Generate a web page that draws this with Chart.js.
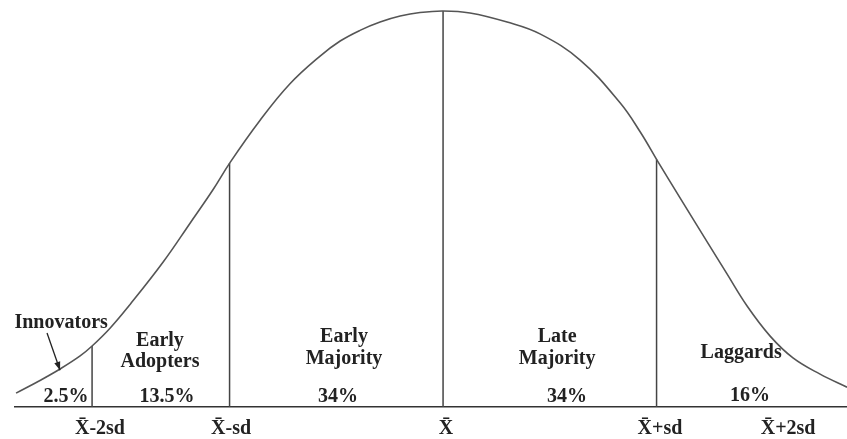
<!DOCTYPE html>
<html>
<head>
<meta charset="utf-8">
<script src="https://cdn.jsdelivr.net/npm/chart.js@4/dist/chart.umd.min.js"></script>
<style>
  html, body { margin: 0; padding: 0; background: #ffffff; }
  #wrap { width: 847px; height: 439px; }
</style>
</head>
<body>
<div id="wrap"><canvas id="c" width="847" height="439"></canvas></div>
<script>
// x in standard deviations from the mean, y in % of the peak height
const curveX = [-2.0, -1.888, -1.794, -1.70, -1.644, -1.56, -1.466, -1.311, -1.185, -1.077, -0.998, -0.857,
                -0.717, -0.576, -0.482, -0.389, -0.295, -0.201, -0.108, 0.0,
                0.126, 0.30, 0.454, 0.642, 0.829, 0.923, 1.007, 1.11, 1.237, 1.33, 1.424, 1.532, 1.639, 1.766, 1.892];
const curveY = [3.5, 6.7, 9.6, 12.9, 15.4, 19.9, 25.9, 36.6, 46.4, 54.9, 61.7, 72.4,
                81.6, 88.6, 92.4, 95.1, 97.2, 98.7, 99.6, 100,
                99.5, 97.2, 94.2, 87.6, 76.8, 69.5, 61.9, 52.8, 41.7, 33.6, 25.5, 17.9, 12.4, 8.3, 5.0];
const dividerX = [-1.644, -1.0, 0.0, 1.0];
const dividerTop = [15.4, 61.6, 100, 62.5];
const tickValues = [-1.607, -0.993, 0.014, 1.016, 1.616];
const tickLabels = ['X\u0304-2sd', 'X\u0304-sd', 'X\u0304', 'X\u0304+sd', 'X\u0304+2sd'];
const groupNames = [['Early', 'Adopters'], ['Early', 'Majority'], ['Late', 'Majority'], ['Laggards']];
const groupShares = ['2.5%', '13.5%', '34%', '34%', '16%'];
const innovatorsLabel = 'Innovators';

const FONT = "'Liberation Serif', 'Times New Roman', serif";
const TEXT = '#222222';

const datasets = [{
  data: curveX.map((x, i) => ({ x: x, y: curveY[i] })),
  showLine: true,
  borderColor: '#555555',
  borderWidth: 1.6,
  pointRadius: 0,
  tension: 0.4,
  fill: false
}];
dividerX.forEach((x, i) => {
  datasets.push({
    data: [{ x: x, y: 0 }, { x: x, y: dividerTop[i] }],
    showLine: true,
    borderColor: '#444444',
    borderWidth: 1.5,
    pointRadius: 0,
    tension: 0
  });
});

// label layout in data coordinates (x in sd, y in % of peak)
const nameLayout = [
  { x: -1.326, ys: [16.7, 11.4] },
  { x: -0.464, ys: [17.7, 12.1] },
  { x: 0.534, ys: [17.7, 12.1] },
  { x: 1.396, ys: [13.6] }
];
const shareLayout = [
  { x: -1.766, y: 2.5 }, { x: -1.293, y: 2.5 }, { x: -0.492, y: 2.5 }, { x: 0.581, y: 2.5 }, { x: 1.438, y: 2.7 }
];

const labelPlugin = {
  id: 'labels',
  afterDatasetsDraw(chart) {
    const ctx = chart.ctx;
    const xs = chart.scales.x, ys = chart.scales.y;
    ctx.save();
    ctx.fillStyle = TEXT;
    ctx.font = 'bold 20px ' + FONT;
    ctx.textAlign = 'center';
    ctx.textBaseline = 'middle';
    groupNames.forEach((lines, i) => {
      lines.forEach((t, j) => {
        ctx.fillText(t, xs.getPixelForValue(nameLayout[i].x), ys.getPixelForValue(nameLayout[i].ys[j]));
      });
    });
    groupShares.forEach((t, i) => {
      ctx.fillText(t, xs.getPixelForValue(shareLayout[i].x), ys.getPixelForValue(shareLayout[i].y));
    });
    ctx.fillText(innovatorsLabel, xs.getPixelForValue(-1.789), ys.getPixelForValue(21.2));
    // arrow
    const x1 = xs.getPixelForValue(-1.855), y1 = ys.getPixelForValue(18.7);
    const x2 = xs.getPixelForValue(-1.794), y2 = ys.getPixelForValue(9.3);
    ctx.strokeStyle = '#222';
    ctx.lineWidth = 1.3;
    ctx.beginPath();
    ctx.moveTo(x1, y1);
    ctx.lineTo(x2, y2);
    ctx.stroke();
    const ang = Math.atan2(y2 - y1, x2 - x1);
    ctx.beginPath();
    ctx.moveTo(x2, y2);
    ctx.lineTo(x2 - 9 * Math.cos(ang - 0.35), y2 - 9 * Math.sin(ang - 0.35));
    ctx.lineTo(x2 - 9 * Math.cos(ang + 0.35), y2 - 9 * Math.sin(ang + 0.35));
    ctx.closePath();
    ctx.fill();
    ctx.restore();
  }
};

new Chart(document.getElementById('c'), {
  type: 'scatter',
  data: { datasets: datasets },
  options: {
    responsive: false,
    animation: false,
    layout: { padding: { left: 15, right: 0, top: 5, bottom: 0 } },
    plugins: { legend: { display: false }, tooltip: { enabled: false } },
    scales: {
      x: {
        type: 'linear',
        min: -2.005,
        max: 1.892,
        afterBuildTicks: (axis) => { axis.ticks = tickValues.map(v => ({ value: v })); },
        afterFit: (axis) => { axis.height = 32; },
        grid: { display: false, drawTicks: false, tickLength: 0 },
        border: { display: true, color: '#333333', width: 1.5 },
        ticks: {
          autoSkip: false,
          maxRotation: 0,
          padding: 10,
          color: TEXT,
          font: { family: FONT, size: 20, weight: 'bold' },
          callback: (v, i) => tickLabels[i]
        }
      },
      y: {
        type: 'linear',
        min: 0,
        max: 101.5,
        display: false
      }
    }
  },
  plugins: [labelPlugin]
});
</script>
</body>
</html>
